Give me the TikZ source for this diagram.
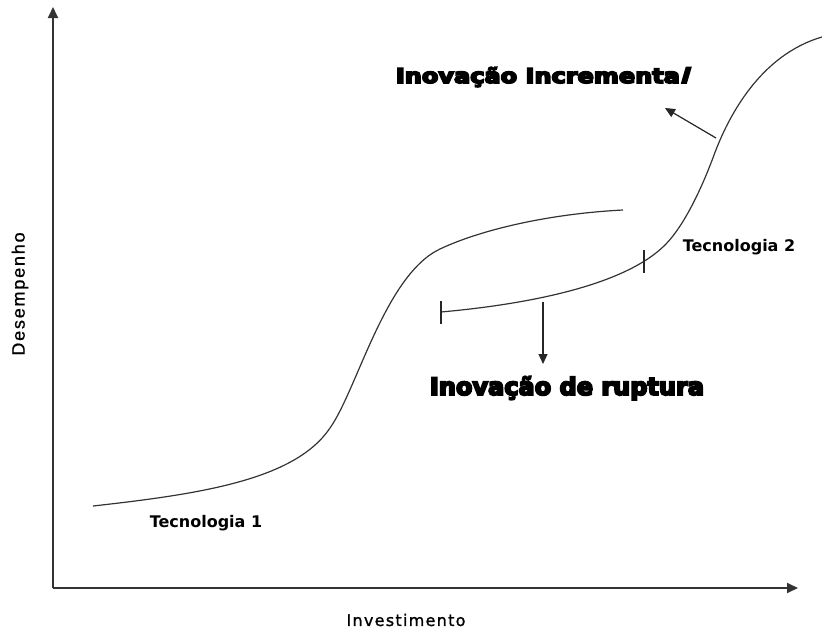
\documentclass[tikz,border=0pt]{standalone}
\usepackage{fontspec}
\usetikzlibrary{arrows.meta}
\newfontfamily\techfam{DejaVu Sans Bold}
\newfontfamily\axfam[LetterSpace=8,FakeBold=1.2]{DejaVu Sans}
\newfontfamily\desfam[LetterSpace=10,FakeBold=0.8]{Liberation Sans}
\newfontfamily\heavyfam[FakeBold=7.5]{DejaVu Sans Bold}
\newfontfamily\heavyslantfam[FakeBold=7.5,FakeSlant=0.25]{DejaVu Sans Bold}
\begin{document}
\begin{tikzpicture}[x=1pt,y=-1pt,
  axis/.style={line width=1.8pt, black!80, -{Triangle[length=11pt,width=10pt]}},
  curve/.style={line width=1.2pt, black!80},
  pointer/.style={line width=1.2pt, black!85, -{Triangle[length=10pt,width=9pt]}},
  tickmark/.style={line width=1.1pt, black!85},
  techlabel/.style={font={\techfam\fontsize{16}{18}\selectfont}, inner sep=0pt},
  axislabel/.style={font={\axfam\fontsize{16}{18}\selectfont}, inner sep=0pt},
  deslabel/.style={font={\desfam\fontsize{18}{20}\selectfont}, inner sep=0pt},
  heavylabel/.style={font={\heavyfam\fontsize{24}{26}\selectfont}, inner sep=0pt, anchor=base}]
\useasboundingbox (0,0) rectangle (822,630);
% axes
\coordinate (O) at (53,588);
\coordinate (ytip) at (53,7);
\coordinate (xtip) at (798,588);
\draw[axis] (O) -- (ytip);
\draw[axis] (O) -- (xtip);
% technology 1
\draw[curve] (93,506) .. controls (200,494) and (295,480) .. (330,428)
  .. controls (357,390) and (385,275) .. (440,249)
  .. controls (478,231) and (545,214) .. (623,210);
% technology 2
\draw[curve] (441,312) .. controls (530,304) and (625,285) .. (665,245)
  .. controls (685,225) and (703,185) .. (714,155)
  .. controls (728,117) and (760,55) .. (822,37);
% ticks
\coordinate (k1a) at (441,301); \coordinate (k1b) at (441,324);
\coordinate (k2a) at (644,250); \coordinate (k2b) at (644,273);
\draw[tickmark] (k1a) -- (k1b);
\draw[tickmark] (k2a) -- (k2b);
% labels
\node[techlabel] (t1) at (206,523) {Tecnologia 1};
\node[techlabel] (t2) at (739,247) {Tecnologia 2};
\node[axislabel] (inv) at (406,620) {Investimento};
\node[deslabel, rotate=90] (des) at (20,294) {Desempenho};
\node[heavylabel] (inc) at (542,83) {\scalebox{1}[0.85]{Inovação Incrementa{\heavyslantfam l}}};
\node[heavylabel] (rup) at (567,395) {Inovação de ruptura};
% pointers
\coordinate (p1s) at (716,138); \coordinate (p1e) at (665,108);
\coordinate (p2s) at (543,302); \coordinate (p2e) at (543,364);
\draw[pointer] (p1s) -- (p1e);
\draw[pointer] (p2s) -- (p2e);
\end{tikzpicture}
\end{document}
